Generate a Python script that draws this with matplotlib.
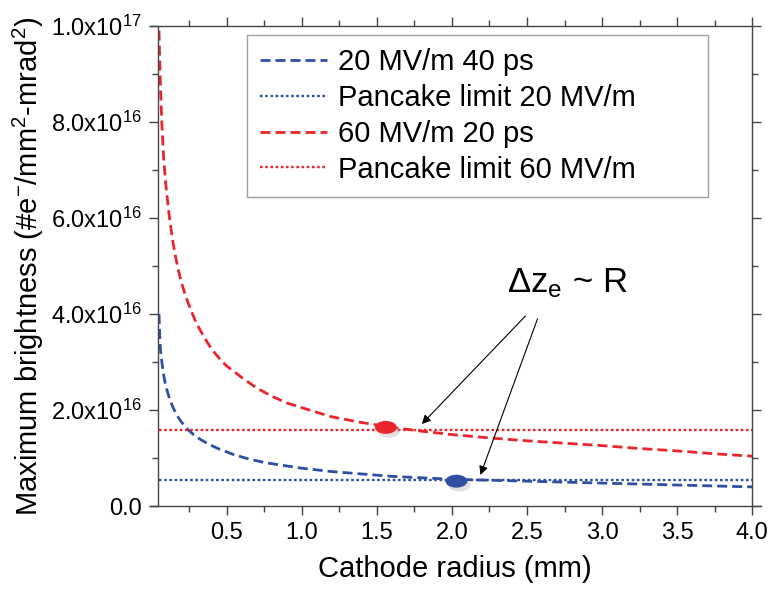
import numpy as np
import matplotlib
matplotlib.use('Agg')
import matplotlib.pyplot as plt
from matplotlib.patches import Ellipse
from matplotlib.ticker import MultipleLocator, FuncFormatter

plt.rcParams['font.family'] = ['Liberation Sans', 'DejaVu Sans']
plt.rcParams['mathtext.default'] = 'regular'

# values (brightness in units of 1e16)
r_red = [0.05, 0.06, 0.07, 0.08, 0.09, 0.10, 0.12, 0.14, 0.16, 0.18, 0.20,
         0.23, 0.26, 0.30, 0.35, 0.40, 0.45, 0.50, 0.60, 0.70, 0.80, 0.90,
         1.00, 1.20, 1.40, 1.60, 1.80, 2.00, 2.25, 2.50, 2.75, 3.00, 3.25,
         3.50, 3.75, 4.00]
b_red = [9.9, 8.7, 7.9, 7.3, 6.9, 6.55, 6.0, 5.55, 5.2, 4.9, 4.65,
         4.35, 4.1, 3.8, 3.52, 3.27, 3.08, 2.92, 2.68, 2.46, 2.29, 2.15,
         2.05, 1.86, 1.74, 1.64, 1.56, 1.49, 1.42, 1.36, 1.31, 1.26, 1.20,
         1.15, 1.09, 1.04]
r_blue = [0.05, 0.055, 0.06, 0.07, 0.08, 0.09, 0.10, 0.12, 0.14, 0.16, 0.18,
          0.20, 0.24, 0.28, 0.32, 0.38, 0.45, 0.55, 0.65, 0.75, 0.85, 1.0,
          1.2, 1.4, 1.6, 1.8, 2.0, 2.25, 2.5, 2.75, 3.0, 3.25, 3.5, 3.75, 4.0]
b_blue = [4.0, 3.55, 3.25, 2.98, 2.75, 2.58, 2.45, 2.24, 2.08, 1.95, 1.84,
          1.75, 1.6, 1.49, 1.40, 1.29, 1.19, 1.07, 0.98, 0.91, 0.86, 0.79,
          0.72, 0.67, 0.62, 0.59, 0.56, 0.54, 0.52, 0.50, 0.48, 0.46, 0.44,
          0.42, 0.40]
limit_red = 1.59
limit_blue = 0.54
r_limit = [0.05, 4.0]
dots_r = [1.56, 2.03]
dots_b = [1.64, 0.52]
scale = 1e16

labels = ['20 MV/m 40 ps', 'Pancake limit 20 MV/m',
          '60 MV/m 20 ps', 'Pancake limit 60 MV/m']
red = '#e8262c'
blue = '#2f4fa2'

# arrow start / end points for the annotation (data units, 1e16)
arrow_from = [(2.49, 3.96), (2.57, 3.90)]
arrow_to = [(1.80, 1.71), (2.19, 0.65)]

fig = plt.figure(figsize=(7.78, 5.99), dpi=100)
ax = fig.add_axes([0.203, 0.155, 0.764, 0.802])

ax.plot(r_blue, np.array(b_blue) * scale, color=blue, lw=2, dashes=(3.6, 1.8),
        label=labels[0])
ax.plot(r_limit, [limit_blue * scale] * 2, color=blue, lw=1.7, dashes=(1.1, 1.1),
        label=labels[1])
ax.plot(r_red, np.array(b_red) * scale, color=red, lw=2, dashes=(3.6, 1.8),
        label=labels[2])
ax.plot(r_limit, [limit_red * scale] * 2, color=red, lw=1.7, dashes=(1.1, 1.1),
        label=labels[3])

for x, y, c in zip(dots_r, dots_b, [red, blue]):
    ax.add_patch(Ellipse((x + 0.02, (y - 0.08) * scale), 0.15, 0.27 * scale,
                         color='#999999', alpha=0.3, lw=0, zorder=4))
    ax.add_patch(Ellipse((x, y * scale), 0.145, 0.27 * scale, color=c, lw=0,
                         zorder=5))

for (x0, y0), (x1, y1) in zip(arrow_from, arrow_to):
    ax.annotate('', xy=(x1, y1 * scale), xytext=(x0, y0 * scale),
                arrowprops=dict(arrowstyle='-|>', lw=0.8, color='black',
                                mutation_scale=13, shrinkA=0, shrinkB=0))
ax.text(2.37, 4.46 * scale, 'Δz$_{e}$ ~ R', fontsize=25, ha='left', va='baseline')

ax.set_xlim(0.043, 4.0)
ax.set_ylim(0, 1e17)
ax.xaxis.set_major_locator(MultipleLocator(0.5))
ax.xaxis.set_minor_locator(MultipleLocator(0.25))
ax.yaxis.set_major_locator(MultipleLocator(2e16))
ax.yaxis.set_minor_locator(MultipleLocator(1e16))


def yfmt(v, pos):
    if v <= 0:
        return '0.0'
    e = int(np.floor(np.log10(v)))
    return '%.1fx10$^{%d}$' % (v / 10 ** e, e)


ax.yaxis.set_major_formatter(FuncFormatter(yfmt))
ax.xaxis.set_major_formatter(FuncFormatter(lambda v, p: '%.1f' % v))
ax.tick_params(which='both', direction='out', top=True, right=True,
               labelsize=17, width=1, color='#444444')
ax.tick_params(which='major', length=6.5)
ax.tick_params(which='minor', length=4.3)
ax.tick_params(axis='x', pad=5)
ax.tick_params(axis='y', pad=5)
for s in ax.spines.values():
    s.set_color('#444444')
    s.set_linewidth(1)
ax.spines['bottom'].set_bounds(-0.01, 4.06)
ax.spines['top'].set_bounds(-0.01, 4.0)

ax.set_xlabel('Cathode radius (mm)', fontsize=21, labelpad=8)
ax.set_ylabel('Maximum brightness (#e$^{-}$/mm$^{2}$-mrad$^{2}$)', fontsize=21,
              labelpad=4)

leg = ax.legend(loc='upper left', bbox_to_anchor=(0.15, 0.658, 0.775, 0.323),
                mode='expand', fontsize=21, frameon=True, fancybox=False,
                handlelength=2.3, handletextpad=0.35, labelspacing=0.27,
                borderpad=0.45, borderaxespad=0)
leg.get_frame().set_edgecolor('#888888')
leg.get_frame().set_linewidth(1)

fig.savefig('out.png', dpi=100)
